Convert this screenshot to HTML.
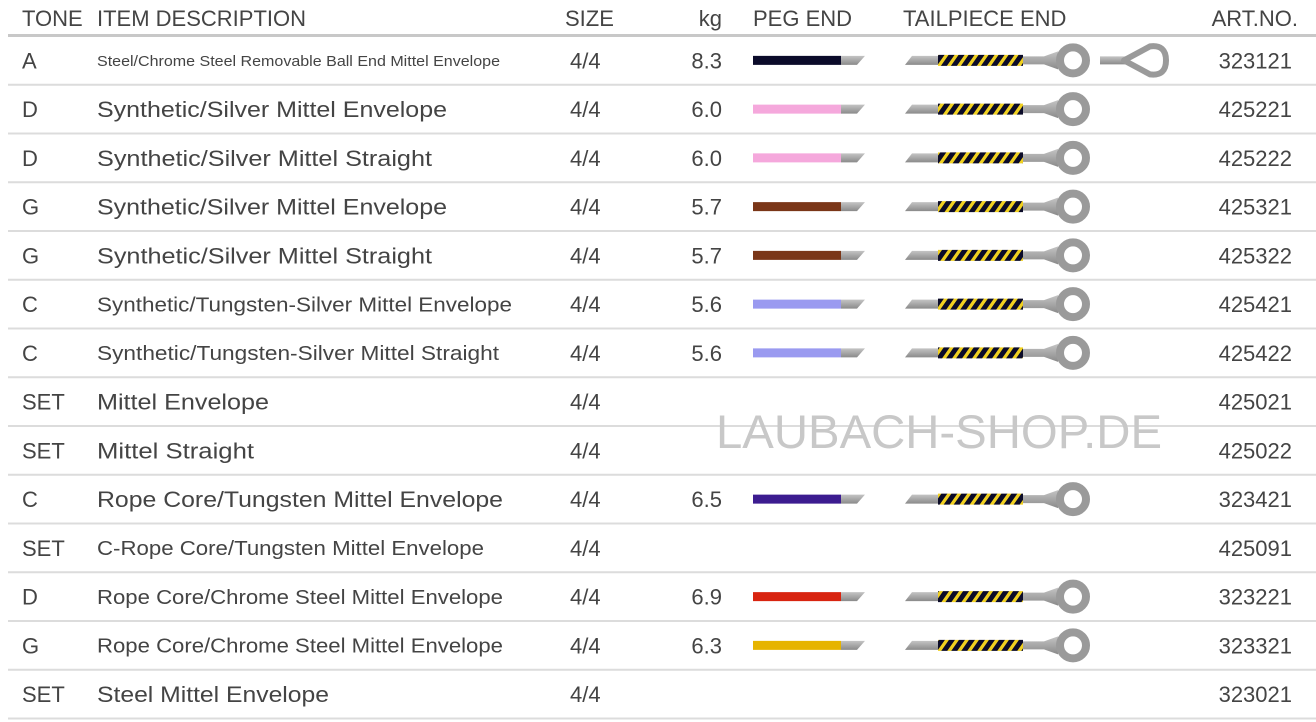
<!DOCTYPE html>
<html><head><meta charset="utf-8"><style>
html,body{margin:0;padding:0;background:#fff;}
svg{display:block;}
text{font-family:"Liberation Sans",sans-serif;fill:#444;}
</style></head><body>
<svg id="tbl" width="1316" height="722" xmlns="http://www.w3.org/2000/svg">
<defs>
<pattern id="wrap" width="10" height="10" patternUnits="userSpaceOnUse" patternTransform="skewX(-35)">
<rect width="10" height="10" fill="#0b0b28"/><rect x="3" width="4" height="10" fill="#f0d020"/>
</pattern>
<linearGradient id="gray" x1="0" y1="0" x2="0" y2="1"><stop offset="0" stop-color="#c4c4c4"/><stop offset="1" stop-color="#8a8a8a"/></linearGradient>
</defs>
<g id="header">
<text x="22" y="26" font-size="22">TONE</text>
<text x="97" y="26" font-size="22">ITEM DESCRIPTION</text>
<text x="565" y="26" font-size="22">SIZE</text>
<text x="722" y="26" font-size="22" text-anchor="end">kg</text>
<text x="753" y="26" font-size="22">PEG END</text>
<text x="903" y="26" font-size="22">TAILPIECE END</text>
<text x="1298" y="26" font-size="22" text-anchor="end">ART.NO.</text>
<rect x="8" y="34" width="1308" height="3" fill="#c8c8c8"/>
</g>
<g id="rows"></g>
<text x="716" y="448" font-size="47" style="fill:#c8c8c8" textLength="446" lengthAdjust="spacingAndGlyphs">LAUBACH-SHOP.DE</text>
</svg>
<script>
const tones=["A","D","D","G","G","C","C","SET","SET","C","SET","D","G","SET"];
const descs=["Steel/Chrome Steel Removable Ball End Mittel Envelope","Synthetic/Silver Mittel Envelope","Synthetic/Silver Mittel Straight","Synthetic/Silver Mittel Envelope","Synthetic/Silver Mittel Straight","Synthetic/Tungsten-Silver Mittel Envelope","Synthetic/Tungsten-Silver Mittel Straight","Mittel Envelope","Mittel Straight","Rope Core/Tungsten Mittel Envelope","C-Rope Core/Tungsten Mittel Envelope","Rope Core/Chrome Steel Mittel Envelope","Rope Core/Chrome Steel Mittel Envelope","Steel Mittel Envelope"];
const descWidths=[403,350,335,350,335,415,402,172,157,406,387,406,406,232];
const descSizes=[15,22,22,22,22,20,20,22,22,22,20,20,20,22];
const sizes=["4/4","4/4","4/4","4/4","4/4","4/4","4/4","4/4","4/4","4/4","4/4","4/4","4/4","4/4"];
const kgs=["8.3","6.0","6.0","5.7","5.7","5.6","5.6","","","6.5","","6.9","6.3",""];
const pegColors=["#0b0b2a","#f5a8dc","#7a3618","#9a9af0","#3c1c90","#d82410","#e6b400",null,null,null,null,null,null,null];
pegColors[9]="#3c1c90";pegColors[11]="#d82410";pegColors[12]="#e6b400";pegColors[5]="#9a9af0";pegColors[6]="#9a9af0";pegColors[7]=null;pegColors[8]=null;pegColors[10]=null;
pegColors[3]="#7a3618";pegColors[4]="#7a3618";pegColors[1]="#f5a8dc";pegColors[2]="#f5a8dc";
const loops=[1,0,0,0,0,0,0,0,0,0,0,0,0,0];
const artNos=["323121","425221","425222","425321","425322","425421","425422","425021","425022","323421","425091","323221","323321","323021"];
const NS="http://www.w3.org/2000/svg";
const g=document.getElementById('rows');
const top0=36,rowH=48.75;
function rowY(i){return top0+i*rowH;}
function mk(tag,attrs,parent){const e=document.createElementNS(NS,tag);for(const k in attrs)e.setAttribute(k,attrs[k]);parent.appendChild(e);return e;}
function txt(parent,x,y,s,str,anchor){const t=mk('text',{x:x,y:y,'font-size':s},parent);if(anchor)t.setAttribute('text-anchor',anchor);t.textContent=str;return t;}
tones.forEach((tone,i)=>{
  const y0=rowY(i),cy=y0+rowH/2,by=cy+8;
  const r=mk('g',{},g);
  
  
  let t=txt(r,22,by,22,tone);
  
  
  t=txt(r,97,cy+descSizes[i]*0.36,descSizes[i],descs[i]);
  t.setAttribute('textLength',descWidths[i]);t.setAttribute('lengthAdjust','spacingAndGlyphs');
  
  
  t=txt(r,570,by,22,sizes[i]);
  
  
  if(kgs[i]){t=txt(r,722,by,22,kgs[i],'end');
  
  }
  t=txt(r,1292,by,22,artNos[i],'end');
  
  
  if(pegColors[i]){
    const p=mk('g',{},r);
    
    
    mk('rect',{x:753,y:cy-4.5,width:88,height:9,fill:pegColors[i]},p);
    mk('path',{d:`M841 ${cy-4.5} H865 L857 ${cy+4.5} H841 Z`,fill:'url(#gray)'},p);
    const tp=mk('g',{},r);
    
    
    mk('path',{d:`M912 ${cy-4.5} H938 V${cy+4.5} H905 Z`,fill:'url(#gray)'},tp);
    mk('rect',{x:938,y:cy-5.5,width:85,height:11,fill:'url(#wrap)'},tp);
    mk('path',{d:`M1023 ${cy-4} H1044 L1058 ${cy-9} V${cy+9} L1044 ${cy+4} H1023 Z`,fill:'url(#gray)'},tp);
    mk('circle',{cx:1073,cy:cy,r:13,fill:'none',stroke:'#9a9a9a','stroke-width':8},tp);
    if(loops[i]){
      mk('rect',{x:1100,y:cy-4,width:26,height:8,fill:'url(#gray)'},tp);
      mk('path',{d:`M1124 ${cy} L1150 ${cy-14} Q1166 ${cy-16} 1166 ${cy} Q1166 ${cy+16} 1150 ${cy+14} Z`,fill:'none',stroke:'#9a9a9a','stroke-width':6,'stroke-linejoin':'round'},tp);
    }
  }
  const l=mk('rect',{x:8,y:y0+rowH-1,width:1308,height:2,fill:'#dcdcdc'},r);
  
  
});
</script>
</body></html>
